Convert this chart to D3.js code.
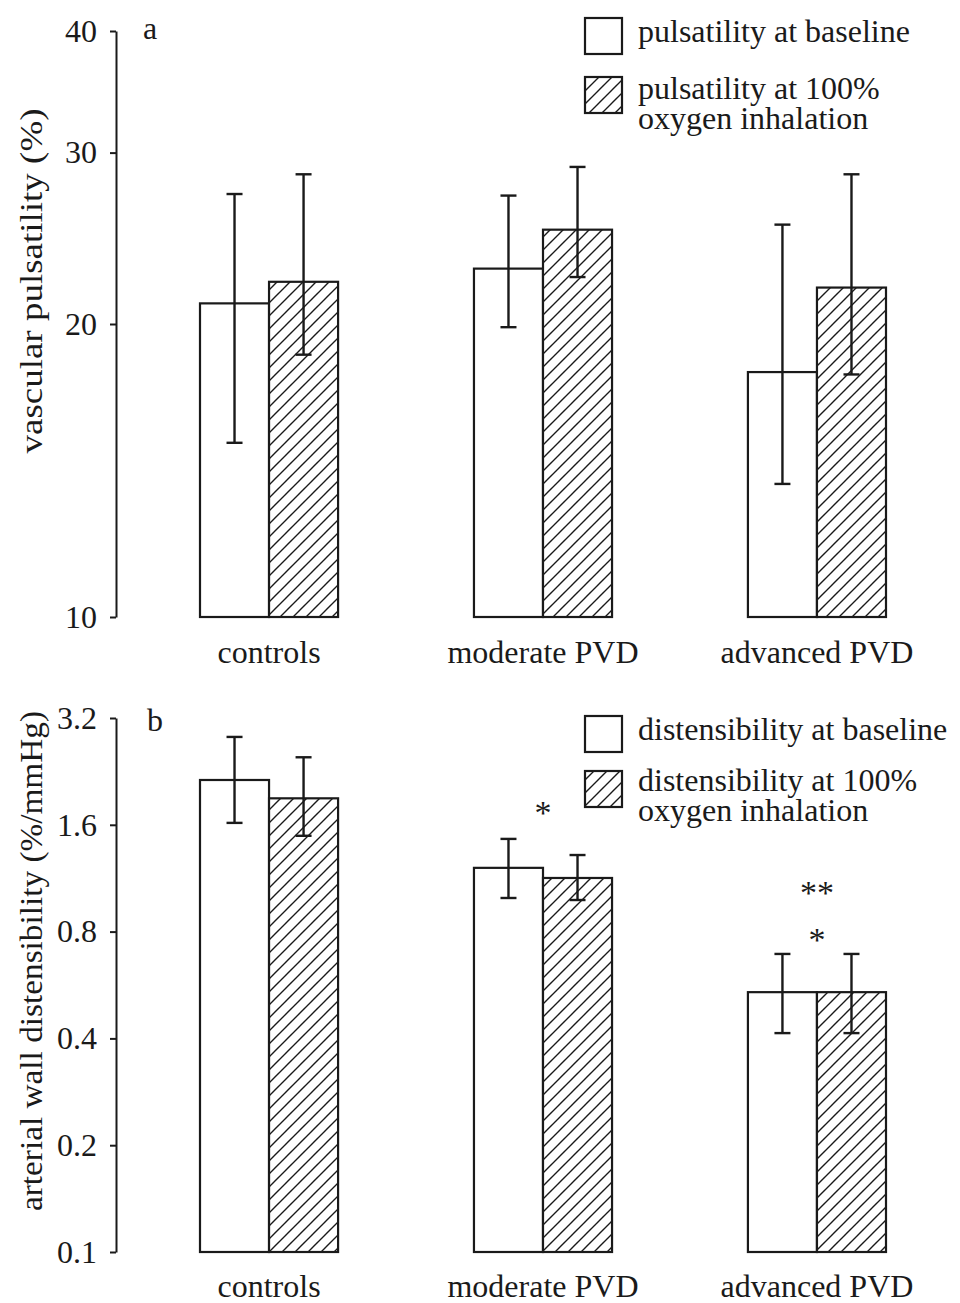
<!DOCTYPE html>
<head>
  <meta charset="utf-8">
  <style>
    body { margin: 0; background: #fff; }
    svg text {
      fill: #1a1a1a;
      font-family: 'Liberation Serif', 'Times New Roman', Times, serif;
    }
    .axis path, .axis line { stroke: #1a1a1a; stroke-width: 2; }
    .axis text { font-size: 32px; }
  </style>
</head>

<body>
  <script src="https://cdn.jsdelivr.net/npm/d3@7"></script>

  <script>
    const width = 960;
    const height = 1303;

    // categories and series
    const groups = ["controls", "moderate PVD", "advanced PVD"];
    const series = ["baseline", "oxygen"];

    // panel a: vascular pulsatility (%)
    const pulsBaseline   = [21.0, 22.8, 17.85];
    const pulsBaselineLo = [15.1, 19.85, 13.7];
    const pulsBaselineHi = [27.2, 27.1, 25.3];
    const pulsOxygen     = [22.1, 25.0, 21.8];
    const pulsOxygenLo   = [18.6, 22.35, 17.75];
    const pulsOxygenHi   = [28.5, 29.0, 28.5];
    const pulsTicks = [10, 20, 30, 40];

    // panel b: arterial wall distensibility (%/mmHg)
    const distBaseline   = [2.14, 1.21, 0.54];
    const distBaselineLo = [1.62, 0.995, 0.414];
    const distBaselineHi = [2.83, 1.46, 0.692];
    const distOxygen     = [1.90, 1.133, 0.54];
    const distOxygenLo   = [1.49, 0.982, 0.414];
    const distOxygenHi   = [2.48, 1.315, 0.692];
    const distTicks = [0.1, 0.2, 0.4, 0.8, 1.6, 3.2];

    // significance marks in panel b (group, symbol, value where it sits)
    const sigGroup = ["moderate PVD", "advanced PVD", "advanced PVD"];
    const sigText  = ["*", "**", "*"];
    const sigAt    = [1.78, 1.06, 0.785];

    const legendA = ["pulsatility at baseline", ["pulsatility at 100%", "oxygen inhalation"]];
    const legendB = ["distensibility at baseline", ["distensibility at 100%", "oxygen inhalation"]];

    let svg = d3.select("body")
      .append("svg")
      .attr("width", width)
      .attr("height", height);

    // hatch pattern
    const defs = svg.append("defs");
    const hp = defs.append("pattern")
      .attr("id", "hatch")
      .attr("patternUnits", "userSpaceOnUse")
      .attr("width", 13)
      .attr("height", 13);
    hp.append("rect").attr("width", 13).attr("height", 13).attr("fill", "#fff");
    hp.append("path")
      .attr("d", "M-2,15 L15,-2 M-4,4 L4,-4 M9,17 L17,9")
      .attr("stroke", "#1a1a1a")
      .attr("stroke-width", 1.4);

    // shared x scales
    const x = d3.scaleBand().domain(groups).range([200, 886]).paddingInner(0.496).paddingOuter(0);
    const xSub = d3.scaleBand().domain(series).range([0, x.bandwidth()]);

    function drawPanel(opt) {
      const y = d3.scaleLog().domain(opt.domain).range(opt.range);
      const g = svg.append("g");

      // axis
      g.append("g")
        .attr("class", "axis")
        .attr("transform", "translate(116,0)")
        .call(d3.axisLeft(y).tickValues(opt.ticks).tickFormat(d => String(d))
          .tickSize(6).tickSizeOuter(0).tickPadding(13))
        .call(a => a.selectAll("text").attr("fill", "#1a1a1a"));

      // bars
      const rows = [];
      groups.forEach((grp, i) => {
        rows.push({grp: grp, s: "baseline", v: opt.base[i], lo: opt.baseLo[i], hi: opt.baseHi[i]});
        rows.push({grp: grp, s: "oxygen", v: opt.oxy[i], lo: opt.oxyLo[i], hi: opt.oxyHi[i]});
      });
      const bx = d => x(d.grp) + xSub(d.s);
      g.selectAll("rect.bar").data(rows).enter().append("rect")
        .attr("class", "bar")
        .attr("x", bx)
        .attr("y", d => y(d.v))
        .attr("width", xSub.bandwidth())
        .attr("height", d => y(opt.domain[0]) - y(d.v))
        .attr("fill", d => d.s === "oxygen" ? "url(#hatch)" : "#fff")
        .attr("stroke", "#1a1a1a")
        .attr("stroke-width", 2.2);

      // error bars
      const cx = d => bx(d) + xSub.bandwidth() / 2;
      const eb = g.selectAll("g.err").data(rows).enter().append("g").attr("class", "err")
        .attr("stroke", "#1a1a1a").attr("stroke-width", 2.4);
      eb.append("line").attr("x1", cx).attr("x2", cx).attr("y1", d => y(d.lo)).attr("y2", d => y(d.hi));
      eb.append("line").attr("x1", d => cx(d) - 8).attr("x2", d => cx(d) + 8).attr("y1", d => y(d.hi)).attr("y2", d => y(d.hi));
      eb.append("line").attr("x1", d => cx(d) - 8).attr("x2", d => cx(d) + 8).attr("y1", d => y(d.lo)).attr("y2", d => y(d.lo));

      // category labels
      g.selectAll("text.cat").data(groups).enter().append("text")
        .attr("class", "cat")
        .attr("x", d => x(d) + x.bandwidth() / 2)
        .attr("y", opt.catY)
        .attr("text-anchor", "middle")
        .attr("font-size", 32)
        .text(d => d);

      // y label
      g.append("text")
        .attr("transform", "translate(42," + opt.labelMid + ") rotate(-90)")
        .attr("text-anchor", "middle")
        .attr("font-size", 32)
        .attr("textLength", opt.labelLen)
        .attr("lengthAdjust", "spacingAndGlyphs")
        .text(opt.label);

      // panel letter
      g.append("text").attr("x", opt.letterX).attr("y", opt.letterY)
        .attr("font-size", 32).text(opt.letter);

      // legend
      const lg = g.append("g");
      lg.append("rect").attr("x", 585).attr("y", opt.legY[0]).attr("width", 37).attr("height", 36)
        .attr("fill", "#fff").attr("stroke", "#1a1a1a").attr("stroke-width", 2.2);
      lg.append("rect").attr("x", 585).attr("y", opt.legY[1]).attr("width", 37).attr("height", 36)
        .attr("fill", "url(#hatch)").attr("stroke", "#1a1a1a").attr("stroke-width", 2.2);
      lg.append("text").attr("x", 638).attr("y", opt.legText[0]).attr("font-size", 32).text(opt.legend[0]);
      const multi = lg.append("text").attr("x", 638).attr("y", opt.legText[1]).attr("font-size", 32);
      opt.legend[1].forEach((t, k) => {
        multi.append("tspan").attr("x", 638).attr("dy", k === 0 ? 0 : 30).text(t);
      });

      return y;
    }

    drawPanel({
      domain: [10, 40], range: [617, 31], ticks: pulsTicks,
      base: pulsBaseline, baseLo: pulsBaselineLo, baseHi: pulsBaselineHi,
      oxy: pulsOxygen, oxyLo: pulsOxygenLo, oxyHi: pulsOxygenHi,
      catY: 663, label: "vascular pulsatility (%)", labelMid: 281, labelLen: 345,
      letter: "a", letterX: 143, letterY: 39,
      legend: legendA, legY: [18, 77], legText: [42, 99]
    });

    const yB = drawPanel({
      domain: [0.1, 3.2], range: [1252, 718], ticks: distTicks,
      base: distBaseline, baseLo: distBaselineLo, baseHi: distBaselineHi,
      oxy: distOxygen, oxyLo: distOxygenLo, oxyHi: distOxygenHi,
      catY: 1297, label: "arterial wall distensibility (%/mmHg)", labelMid: 961, labelLen: 500,
      letter: "b", letterX: 147, letterY: 731,
      legend: legendB, legY: [716, 771], legText: [740, 791]
    });

    // significance marks
    svg.append("g").selectAll("text").data(sigText).enter().append("text")
      .attr("x", (d, i) => x(sigGroup[i]) + x.bandwidth() / 2)
      .attr("y", (d, i) => yB(sigAt[i]) + 16)
      .attr("text-anchor", "middle")
      .attr("font-size", 34)
      .text(d => d);
  </script>
</body>
